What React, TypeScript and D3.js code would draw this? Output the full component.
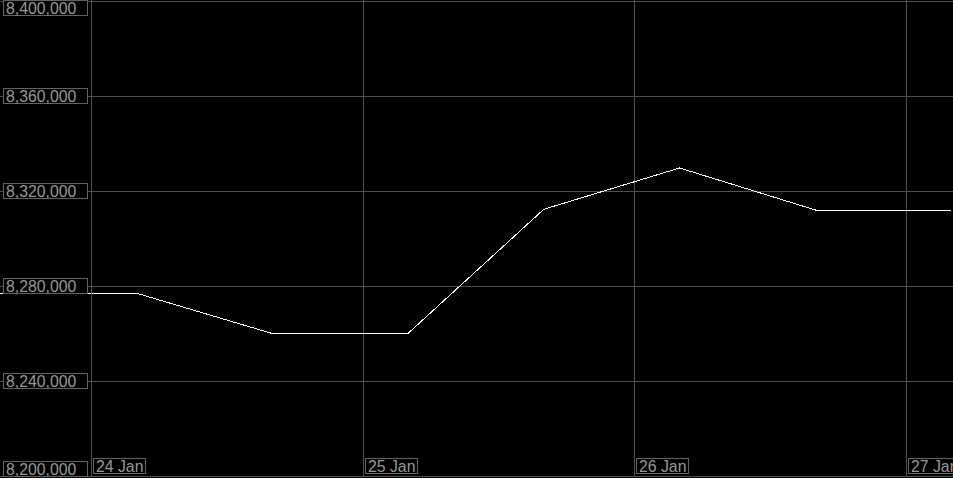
import React, { useEffect, useRef } from 'react';
import * as d3 from 'd3';

const times = [
  '2024-01-23T16:00',
  '2024-01-24T04:00',
  '2024-01-24T16:00',
  '2024-01-25T04:00',
  '2024-01-25T16:00',
  '2024-01-26T04:00',
  '2024-01-26T16:00',
  '2024-01-27T04:00',
];
const values = [8277000, 8277000, 8260000, 8260000, 8312300, 8329700, 8312000, 8312000];
const yTicks = [8200000, 8240000, 8280000, 8320000, 8360000, 8400000];
const xDomain = ['2024-01-24T00:00', '2024-01-27T00:00'];

const gridColor = '#505050';
const boxColor = '#646464';
const textColor = '#989898';

function App() {
  const svgRef = useRef<SVGSVGElement>(null);

  useEffect(() => {
    const svg = d3.select(svgRef.current);
    svg.selectAll('*').remove();

    const width = 953;
    const height = 478;
    const top = 1;
    const bottom = 476;
    const left = 91;

    const parse = (s: string) => new Date(s);
    const data = times.map((t, i) => ({ t: parse(t), v: values[i] }));

    const x = d3.scaleTime().domain(xDomain.map(parse)).range([left, 906]);
    const y = d3.scaleLinear().domain([8200000, 8400000]).range([bottom, top]);

    svg.append('rect').attr('width', width).attr('height', height).attr('fill', '#000');

    const grid = svg.append('g').attr('shape-rendering', 'crispEdges').attr('stroke', gridColor);

    grid.selectAll('.hg')
      .data(yTicks)
      .enter()
      .append('line')
      .attr('x1', 0)
      .attr('x2', width)
      .attr('y1', d => Math.round(y(d)) + 0.5)
      .attr('y2', d => Math.round(y(d)) + 0.5);

    const dayTicks = x.ticks(d3.timeDay.every(1)!);
    grid.selectAll('.vg')
      .data(dayTicks)
      .enter()
      .append('line')
      .attr('x1', d => Math.round(x(d)) + 0.5)
      .attr('x2', d => Math.round(x(d)) + 0.5)
      .attr('y1', 0)
      .attr('y2', bottom + 0.5);

    // the series line, not clipped to the plot area
    const line = d3.line<{ t: Date; v: number }>()
      .x(d => x(d.t))
      .y(d => y(d.v));

    svg.append('path')
      .datum(data)
      .attr('d', line)
      .attr('fill', 'none')
      .attr('stroke', '#fff')
      .attr('stroke-width', 1)
      .attr('shape-rendering', 'crispEdges');

    const font = '"Liberation Sans", Arial, sans-serif';
    const fmt = d3.format(',');

    // y labels in boxes
    const boxH = 16;
    const yl = svg.append('g');
    yTicks.forEach(d => {
      let by = Math.round(y(d)) - boxH / 2;
      by = Math.max(0, Math.min(bottom + 1 - boxH, by));
      const g = yl.append('g');
      g.append('rect')
        .attr('x', 3.5)
        .attr('y', by + 0.5)
        .attr('width', 84)
        .attr('height', boxH - 1)
        .attr('fill', '#000')
        .attr('stroke', boxColor)
        .attr('shape-rendering', 'crispEdges');
      g.append('text')
        .attr('x', 6)
        .attr('y', by + 14)
        .attr('fill', textColor)
        .attr('font-family', font)
        .attr('font-size', 15.8)
        .text(fmt(d));
    });

    // x labels in boxes
    const xl = svg.append('g');
    dayTicks.forEach(d => {
      const bx = Math.round(x(d)) + 2;
      const g = xl.append('g');
      const rect = g.append('rect')
        .attr('x', bx + 0.5)
        .attr('y', 458.5)
        .attr('height', 15)
        .attr('fill', '#000')
        .attr('stroke', boxColor)
        .attr('shape-rendering', 'crispEdges');
      const text = g.append('text')
        .attr('x', bx + 3)
        .attr('y', 472)
        .attr('fill', textColor)
        .attr('font-family', font)
        .attr('font-size', 15.8)
        .text(d3.timeFormat('%-d %b')(d));
      const w = (text.node() as SVGTextElement).getComputedTextLength();
      rect.attr('width', Math.round(w) + 5);
    });

    // left axis line
    svg.append('line')
      .attr('x1', left + 0.5).attr('x2', left + 0.5)
      .attr('y1', 0).attr('y2', bottom + 1)
      .attr('stroke', gridColor)
      .attr('shape-rendering', 'crispEdges');
  }, []);

  return (
    <svg
      ref={svgRef}
      width={953}
      height={478}
      style={{ position: 'absolute', left: 0, top: 0, display: 'block' }}
    />
  );
}

export default App;
